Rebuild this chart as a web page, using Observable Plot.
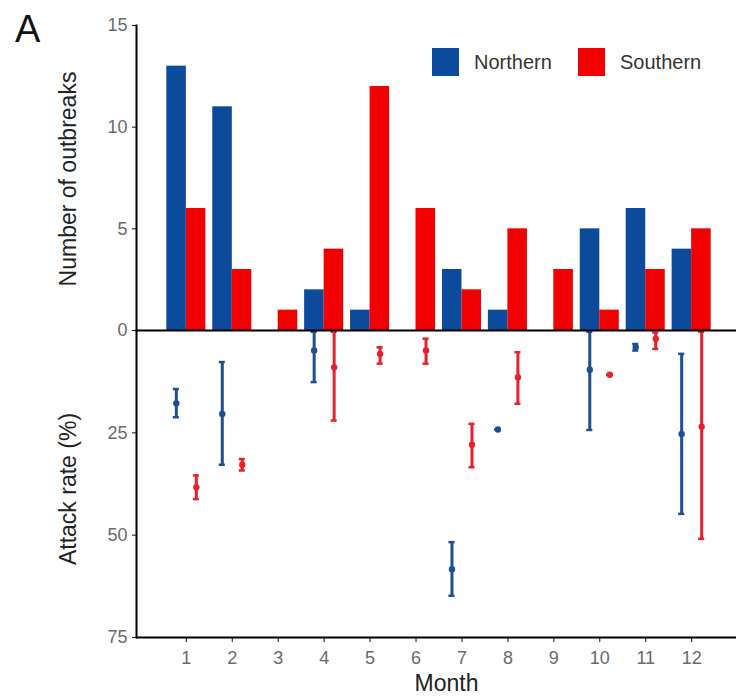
<!DOCTYPE html>
<html>
<head>
<meta charset="utf-8">
<script src="https://cdn.jsdelivr.net/npm/d3@7"></script>
<script src="https://cdn.jsdelivr.net/npm/@observablehq/plot@0.6"></script>
<style>
  html, body { margin: 0; padding: 0; background: #fff; }
  #wrap { position: relative; width: 736px; height: 699px; font-family: "Liberation Sans", Arial, sans-serif; overflow: hidden; }
  #wrap svg { position: absolute; left: 0; }
  #panelA { position: absolute; left: 15px; top: 10px; font-size: 38px; line-height: 1; color: #111; }
  .legend { position: absolute; top: 48px; display: flex; align-items: center; font-size: 20px; color: #333; }
  .swatch { width: 27px; height: 28px; margin-right: 15px; }
  g[aria-label="y-axis tick label"], g[aria-label="x-axis tick label"] { fill: #6a6a6a; }
</style>
</head>
<body>
<div id="wrap">
  <div id="panelA">A</div>
</div>
<script>
// ---- data ----
const months = [1, 2, 3, 4, 5, 6, 7, 8, 9, 10, 11, 12];
const northernCount = [13, 11, 0, 2, 1, 0, 3, 1, 0, 5, 6, 4];
const southernCount = [6, 3, 1, 4, 12, 6, 2, 5, 3, 1, 3, 5];

// attack rate (%) : mean and range
const northernMonths = [1, 2, 4, 7, 8, 10, 11, 12];
const northernMean   = [17.8, 20.4, 4.9, 58.3, 24.2, 9.6, 4.1, 25.3];
const northernLow    = [14.3, 7.7, 0.3, 51.7, 24.2, 0.3, 3.3, 5.7];
const northernHigh   = [21.2, 32.8, 12.6, 64.8, 24.2, 24.3, 4.9, 44.8];

const southernMonths = [1, 2, 4, 5, 6, 7, 8, 10, 11, 12];
const southernMean   = [38.3, 32.8, 9.0, 5.7, 4.9, 27.9, 11.4, 10.8, 2.0, 23.5];
const southernLow    = [35.4, 31.4, 0.3, 4.1, 2.0, 22.8, 5.3, 10.8, 0.5, 0.3];
const southernHigh   = [41.2, 34.2, 22.0, 8.1, 8.1, 33.4, 17.9, 10.8, 4.5, 50.9];

const seriesNames = ["Northern", "Southern"];
const countTicks = [0, 5, 10, 15];
const rateTicks = [25, 50, 75];

// ---- styling ----
const BLUE = "#0c4a9b";
const RED = "#f00000";
const BLUE_ERR = "#1d4f8f";
const RED_ERR = "#e8202a";
const FONT = "Liberation Sans, Arial, sans-serif";

const northCounts = months.map((m, i) => ({month: m, count: northernCount[i]}));
const southCounts = months.map((m, i) => ({month: m, count: southernCount[i]}));
const northRates = northernMonths.map((m, i) => ({month: m, mean: northernMean[i], low: northernLow[i], high: northernHigh[i]}));
const southRates = southernMonths.map((m, i) => ({month: m, mean: southernMean[i], low: southernLow[i], high: southernHigh[i]}));

const xScale = {type: "band", domain: months, range: [136, 741], round: false, paddingInner: 0.15, paddingOuter: 0.66};
const half = 19.5;
const plotStyle = {fontFamily: FONT, fontSize: "18px", color: "#111", background: "transparent", overflow: "visible"};

const topPlot = Plot.plot({
  width: 736, height: 331,
  marginLeft: 136, marginRight: 0, marginTop: 25, marginBottom: 1,
  style: plotStyle,
  x: {...xScale, axis: null},
  y: {domain: [0, 15], ticks: countTicks, tickSize: 4, tickPadding: 5, label: null},
  marks: [
    Plot.barY(northCounts, {x: "month", y: "count", fill: BLUE, insetLeft: 0, insetRight: half}),
    Plot.barY(southCounts, {x: "month", y: "count", fill: RED, insetLeft: half, insetRight: 0}),
    Plot.ruleY([0], {stroke: "#000", strokeWidth: 2}),
    Plot.frame({anchor: "left", stroke: "#000", strokeWidth: 2}),
    Plot.text(["Number of outbreaks"], {frameAnchor: "left", textAnchor: "middle", rotate: -90, dx: -68, dy: 1, fontSize: 23, fill: "#222"})
  ]
});

const errMarks = (data, color, dx) => [
  Plot.ruleX(data, {x: "month", y1: "low", y2: "high", stroke: color, strokeWidth: 3, dx}),
  Plot.tickY(data, {x: "month", y: "low", stroke: color, strokeWidth: 2.5, dx, insetLeft: 16.5, insetRight: 16.5}),
  Plot.tickY(data, {x: "month", y: "high", stroke: color, strokeWidth: 2.5, dx, insetLeft: 16.5, insetRight: 16.5}),
  Plot.dot(data, {x: "month", y: "mean", fill: color, r: 3.2, dx})
];

const bottomPlot = Plot.plot({
  width: 736, height: 369,
  marginLeft: 136, marginRight: 0, marginTop: 0, marginBottom: 62,
  style: plotStyle,
  x: {...xScale, tickSize: 5, tickPadding: 9, label: null},
  y: {domain: [0, 75], reverse: true, ticks: rateTicks, tickSize: 4, tickPadding: 5, label: null},
  marks: [
    ...errMarks(northRates, BLUE_ERR, -10),
    ...errMarks(southRates, RED_ERR, 10),
    Plot.ruleY([75], {stroke: "#000", strokeWidth: 2}),
    Plot.frame({anchor: "left", stroke: "#000", strokeWidth: 2}),
    Plot.text(["Attack rate (%)"], {frameAnchor: "left", textAnchor: "middle", rotate: -90, dx: -68, dy: 5, fontSize: 23, fill: "#222"}),
    Plot.text(["Month"], {frameAnchor: "bottom", dx: 10, dy: 53, fontSize: 23, fill: "#222"})
  ]
});

const wrap = document.getElementById("wrap");
bottomPlot.style.top = "330px";
topPlot.style.top = "0px";
wrap.appendChild(bottomPlot);
wrap.appendChild(topPlot);

// legend
const legendItems = [
  {name: seriesNames[0], color: BLUE, left: 432},
  {name: seriesNames[1], color: RED, left: 578}
];
for (const item of legendItems) {
  const el = document.createElement("div");
  el.className = "legend";
  el.style.left = item.left + "px";
  el.innerHTML = `<div class="swatch" style="background:${item.color}"></div><span>${item.name}</span>`;
  wrap.appendChild(el);
}
</script>
</body>
</html>
